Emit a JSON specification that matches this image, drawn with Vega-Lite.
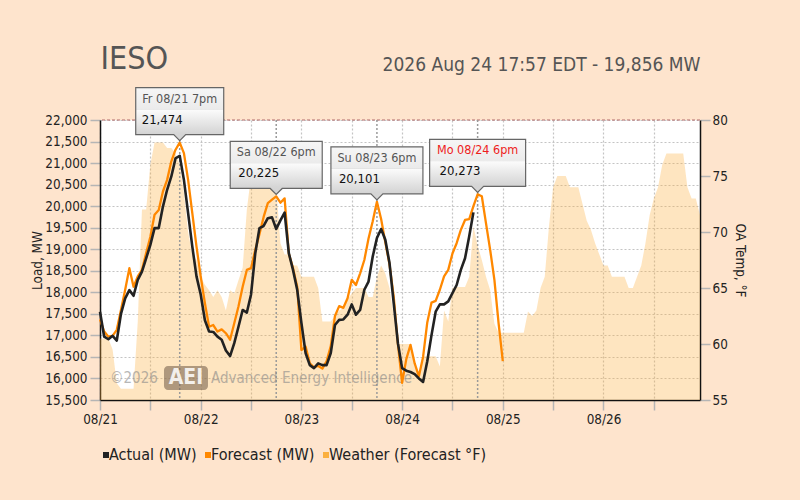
{
  "$schema": "https://vega.github.io/schema/vega-lite/v6.json",
  "width": 600,
  "height": 280,
  "autosize": {"type": "none"},
  "padding": {"left": 100, "top": 120, "right": 100, "bottom": 100},
  "background": "#fee4cd",
  "config": {
    "view": {"fill": "white", "stroke": null},
    "axis": {
      "labelFont": "DejaVu Sans Condensed",
      "titleFont": "DejaVu Sans Condensed",
      "labelFontSize": 13.4,
      "titleFontSize": 13.4,
      "titleFontWeight": "normal",
      "labelColor": "#222222",
      "titleColor": "#222222",
      "domainColor": "#111111",
      "domainWidth": 1.5,
      "tickColor": "#b5b5b5",
      "tickWidth": 1.5,
      "tickSize": 10,
      "gridColor": "#c4c4c4",
      "gridDash": [2, 2],
      "gridWidth": 1.2
    }
  },
  "datasets": {
    "load": [
      {"time": "2026-08-21T00:00", "temp": 60.5, "actual": 17550, "forecast": 17370},
      {"time": "2026-08-21T01:00", "temp": 60.5, "actual": 16970, "forecast": 17090},
      {"time": "2026-08-21T02:00", "temp": 60.5, "actual": 16910, "forecast": 16970},
      {"time": "2026-08-21T03:00", "temp": 59.5, "actual": 16990, "forecast": 16990},
      {"time": "2026-08-21T04:00", "temp": 56.5, "actual": 16880, "forecast": 17130},
      {"time": "2026-08-21T05:00", "temp": 56, "actual": 17500, "forecast": 17590},
      {"time": "2026-08-21T06:00", "temp": 56, "actual": 17860, "forecast": 18060},
      {"time": "2026-08-21T07:00", "temp": 56, "actual": 18050, "forecast": 18560},
      {"time": "2026-08-21T08:00", "temp": 56, "actual": 17920, "forecast": 18130},
      {"time": "2026-08-21T09:00", "temp": 62, "actual": 18290, "forecast": 18370},
      {"time": "2026-08-21T10:00", "temp": 72, "actual": 18480, "forecast": 18520},
      {"time": "2026-08-21T11:00", "temp": 72, "actual": 18790, "forecast": 18910},
      {"time": "2026-08-21T12:00", "temp": 76, "actual": 19100, "forecast": 19290},
      {"time": "2026-08-21T13:00", "temp": 78, "actual": 19490, "forecast": 19800},
      {"time": "2026-08-21T14:00", "temp": 78, "actual": 19490, "forecast": 19910},
      {"time": "2026-08-21T15:00", "temp": 78, "actual": 19990, "forecast": 20340},
      {"time": "2026-08-21T16:00", "temp": 77.5, "actual": 20380, "forecast": 20610},
      {"time": "2026-08-21T17:00", "temp": 77.5, "actual": 20690, "forecast": 21040},
      {"time": "2026-08-21T18:00", "temp": 77, "actual": 21110, "forecast": 21310},
      {"time": "2026-08-21T19:00", "temp": 76, "actual": 21170, "forecast": 21474},
      {"time": "2026-08-21T20:00", "temp": 73.5, "actual": 20610, "forecast": 21230},
      {"time": "2026-08-21T21:00", "temp": 70, "actual": 19840, "forecast": 20610},
      {"time": "2026-08-21T22:00", "temp": 68, "actual": 19060, "forecast": 19840},
      {"time": "2026-08-21T23:00", "temp": 67.5, "actual": 18370, "forecast": 19060},
      {"time": "2026-08-22T00:00", "temp": 66, "actual": 17950, "forecast": 18370},
      {"time": "2026-08-22T01:00", "temp": 65.3, "actual": 17350, "forecast": 17750},
      {"time": "2026-08-22T02:00", "temp": 64.8, "actual": 17090, "forecast": 17200},
      {"time": "2026-08-22T03:00", "temp": 64.2, "actual": 17080, "forecast": 17240},
      {"time": "2026-08-22T04:00", "temp": 64.8, "actual": 16970, "forecast": 17090},
      {"time": "2026-08-22T05:00", "temp": 64.2, "actual": 16900, "forecast": 17140},
      {"time": "2026-08-22T06:00", "temp": 63, "actual": 16650, "forecast": 17050},
      {"time": "2026-08-22T07:00", "temp": 64.8, "actual": 16520, "forecast": 16900},
      {"time": "2026-08-22T08:00", "temp": 64.5, "actual": 16820, "forecast": 17280},
      {"time": "2026-08-22T09:00", "temp": 65.7, "actual": 17200, "forecast": 17670},
      {"time": "2026-08-22T10:00", "temp": 66.8, "actual": 17590, "forecast": 18130},
      {"time": "2026-08-22T11:00", "temp": 72, "actual": 17530, "forecast": 18520},
      {"time": "2026-08-22T12:00", "temp": 75, "actual": 17950, "forecast": 18560},
      {"time": "2026-08-22T13:00", "temp": 76, "actual": 18900, "forecast": 18980},
      {"time": "2026-08-22T14:00", "temp": 76.5, "actual": 19490, "forecast": 19350},
      {"time": "2026-08-22T15:00", "temp": 76.5, "actual": 19540, "forecast": 19750},
      {"time": "2026-08-22T16:00", "temp": 76.5, "actual": 19720, "forecast": 20070},
      {"time": "2026-08-22T17:00", "temp": 76, "actual": 19740, "forecast": 20150},
      {"time": "2026-08-22T18:00", "temp": 74, "actual": 19470, "forecast": 20225},
      {"time": "2026-08-22T19:00", "temp": 69, "actual": 19670, "forecast": 20080},
      {"time": "2026-08-22T20:00", "temp": 68, "actual": 19850, "forecast": 20180},
      {"time": "2026-08-22T21:00", "temp": 68, "actual": 18910, "forecast": 18900},
      {"time": "2026-08-22T22:00", "temp": 67, "actual": 18520, "forecast": 18560},
      {"time": "2026-08-22T23:00", "temp": 67, "actual": 18060, "forecast": 18130},
      {"time": "2026-08-23T00:00", "temp": 66, "actual": 17290, "forecast": 16660},
      {"time": "2026-08-23T01:00", "temp": 66, "actual": 16590, "forecast": 16740},
      {"time": "2026-08-23T02:00", "temp": 66, "actual": 16310, "forecast": 16350},
      {"time": "2026-08-23T03:00", "temp": 66, "actual": 16240, "forecast": 16260},
      {"time": "2026-08-23T04:00", "temp": 65, "actual": 16350, "forecast": 16290},
      {"time": "2026-08-23T05:00", "temp": 62, "actual": 16310, "forecast": 16230},
      {"time": "2026-08-23T06:00", "temp": 62, "actual": 16310, "forecast": 16400},
      {"time": "2026-08-23T07:00", "temp": 62, "actual": 16590, "forecast": 16750},
      {"time": "2026-08-23T08:00", "temp": 62.5, "actual": 17240, "forecast": 17450},
      {"time": "2026-08-23T09:00", "temp": 63, "actual": 17360, "forecast": 17680},
      {"time": "2026-08-23T10:00", "temp": 63.2, "actual": 17370, "forecast": 17640},
      {"time": "2026-08-23T11:00", "temp": 64, "actual": 17480, "forecast": 17860},
      {"time": "2026-08-23T12:00", "temp": 64.5, "actual": 17720, "forecast": 18290},
      {"time": "2026-08-23T13:00", "temp": 65, "actual": 17480, "forecast": 18170},
      {"time": "2026-08-23T14:00", "temp": 65, "actual": 17590, "forecast": 18440},
      {"time": "2026-08-23T15:00", "temp": 65, "actual": 18060, "forecast": 18750},
      {"time": "2026-08-23T16:00", "temp": 64.2, "actual": 18250, "forecast": 19250},
      {"time": "2026-08-23T17:00", "temp": 64.2, "actual": 18830, "forecast": 19650},
      {"time": "2026-08-23T18:00", "temp": 66, "actual": 19260, "forecast": 20101},
      {"time": "2026-08-23T19:00", "temp": 67, "actual": 19470, "forecast": 19700},
      {"time": "2026-08-23T20:00", "temp": 66.3, "actual": 19220, "forecast": 19160},
      {"time": "2026-08-23T21:00", "temp": 65, "actual": 18680, "forecast": 18650},
      {"time": "2026-08-23T22:00", "temp": 62.5, "actual": 17750, "forecast": 17900},
      {"time": "2026-08-23T23:00", "temp": 60, "actual": 16820, "forecast": 16800},
      {"time": "2026-08-24T00:00", "temp": 60, "actual": 16240, "forecast": 15900},
      {"time": "2026-08-24T01:00", "temp": 60, "actual": 16180, "forecast": 16450},
      {"time": "2026-08-24T02:00", "temp": 60, "actual": 16150, "forecast": 16780},
      {"time": "2026-08-24T03:00", "temp": 58, "actual": 16100, "forecast": 16350},
      {"time": "2026-08-24T04:00", "temp": 57.5, "actual": 16000, "forecast": 16050},
      {"time": "2026-08-24T05:00", "temp": 58.9, "actual": 15920, "forecast": 16500},
      {"time": "2026-08-24T06:00", "temp": 58.9, "actual": 16400, "forecast": 17300},
      {"time": "2026-08-24T07:00", "temp": 58.9, "actual": 17000, "forecast": 17760},
      {"time": "2026-08-24T08:00", "temp": 58.9, "actual": 17550, "forecast": 17800},
      {"time": "2026-08-24T09:00", "temp": 58, "actual": 17720, "forecast": 18060},
      {"time": "2026-08-24T10:00", "temp": 63, "actual": 17720, "forecast": 18370},
      {"time": "2026-08-24T11:00", "temp": 62, "actual": 17790, "forecast": 18520},
      {"time": "2026-08-24T12:00", "temp": 65, "actual": 17980, "forecast": 18900},
      {"time": "2026-08-24T13:00", "temp": 65.1, "actual": 18170, "forecast": 19140},
      {"time": "2026-08-24T14:00", "temp": 65.1, "actual": 18520, "forecast": 19450},
      {"time": "2026-08-24T15:00", "temp": 65.1, "actual": 18790, "forecast": 19680},
      {"time": "2026-08-24T16:00", "temp": 66, "actual": 19300, "forecast": 19700},
      {"time": "2026-08-24T17:00", "temp": 70.5, "actual": 19856, "forecast": 20000},
      {"time": "2026-08-24T18:00", "temp": 68.8, "forecast": 20273},
      {"time": "2026-08-24T19:00", "temp": 67.5, "forecast": 20230},
      {"time": "2026-08-24T20:00", "temp": 66, "forecast": 19600},
      {"time": "2026-08-24T21:00", "temp": 64.8, "forecast": 18980},
      {"time": "2026-08-24T22:00", "temp": 61.8, "forecast": 18290},
      {"time": "2026-08-24T23:00", "temp": 61, "forecast": 17280},
      {"time": "2026-08-25T00:00", "temp": 61, "forecast": 16400},
      {"time": "2026-08-25T01:00", "temp": 61},
      {"time": "2026-08-25T02:00", "temp": 61},
      {"time": "2026-08-25T03:00", "temp": 61},
      {"time": "2026-08-25T04:00", "temp": 61},
      {"time": "2026-08-25T05:00", "temp": 61},
      {"time": "2026-08-25T06:00", "temp": 62.9},
      {"time": "2026-08-25T07:00", "temp": 62.5},
      {"time": "2026-08-25T08:00", "temp": 63},
      {"time": "2026-08-25T09:00", "temp": 65},
      {"time": "2026-08-25T10:00", "temp": 66},
      {"time": "2026-08-25T11:00", "temp": 70.5},
      {"time": "2026-08-25T12:00", "temp": 74},
      {"time": "2026-08-25T13:00", "temp": 75},
      {"time": "2026-08-25T14:00", "temp": 75},
      {"time": "2026-08-25T15:00", "temp": 75},
      {"time": "2026-08-25T16:00", "temp": 74},
      {"time": "2026-08-25T17:00", "temp": 74},
      {"time": "2026-08-25T18:00", "temp": 74},
      {"time": "2026-08-25T19:00", "temp": 72.5},
      {"time": "2026-08-25T20:00", "temp": 71},
      {"time": "2026-08-25T21:00", "temp": 70.2},
      {"time": "2026-08-25T22:00", "temp": 69},
      {"time": "2026-08-25T23:00", "temp": 68},
      {"time": "2026-08-26T00:00", "temp": 67},
      {"time": "2026-08-26T01:00", "temp": 67},
      {"time": "2026-08-26T02:00", "temp": 66},
      {"time": "2026-08-26T03:00", "temp": 66},
      {"time": "2026-08-26T04:00", "temp": 66},
      {"time": "2026-08-26T05:00", "temp": 66},
      {"time": "2026-08-26T06:00", "temp": 65},
      {"time": "2026-08-26T07:00", "temp": 65},
      {"time": "2026-08-26T08:00", "temp": 66},
      {"time": "2026-08-26T09:00", "temp": 67},
      {"time": "2026-08-26T10:00", "temp": 69},
      {"time": "2026-08-26T11:00", "temp": 71.5},
      {"time": "2026-08-26T12:00", "temp": 73},
      {"time": "2026-08-26T13:00", "temp": 74},
      {"time": "2026-08-26T14:00", "temp": 76},
      {"time": "2026-08-26T15:00", "temp": 77},
      {"time": "2026-08-26T16:00", "temp": 77},
      {"time": "2026-08-26T17:00", "temp": 77},
      {"time": "2026-08-26T18:00", "temp": 77},
      {"time": "2026-08-26T19:00", "temp": 77},
      {"time": "2026-08-26T20:00", "temp": 74},
      {"time": "2026-08-26T21:00", "temp": 73},
      {"time": "2026-08-26T22:00", "temp": 73},
      {"time": "2026-08-26T23:00", "temp": 71.5}
    ],
    "peaks": [
      {"time": "2026-08-21T19:00", "v": 21474, "day": "Fr", "head": "Fr 08/21 7pm"},
      {"time": "2026-08-22T18:00", "v": 20225, "day": "Sa", "head": "Sa 08/22 6pm"},
      {"time": "2026-08-23T18:00", "v": 20101, "day": "Su", "head": "Su 08/23 6pm"},
      {"time": "2026-08-24T18:00", "v": 20273, "day": "Mo", "head": "Mo 08/24 6pm"}
    ]
  },
  "resolve": {
    "scale": {"x": "independent", "y": "independent"},
    "axis": {"x": "independent", "y": "independent"}
  },
  "layer": [
    {
      "data": {"name": "load"},
      "mark": {"type": "area", "opacity": 0.33},
      "encoding": {
        "x": {
          "field": "time",
          "type": "temporal",
          "scale": {"domain": [{"year": 2026, "month": 8, "date": 21, "hours": 0}, {"year": 2026, "month": 8, "date": 26, "hours": 23}], "nice": false},
          "axis": {
            "orient": "bottom",
            "title": null,
            "grid": true,
            "labelFlush": false,
            "labelPadding": 2,
            "labelOverlap": false,
            "values": [
              {"year": 2026, "month": 8, "date": 21, "hours": 0},
              {"year": 2026, "month": 8, "date": 21, "hours": 12},
              {"year": 2026, "month": 8, "date": 22, "hours": 0},
              {"year": 2026, "month": 8, "date": 22, "hours": 12},
              {"year": 2026, "month": 8, "date": 23, "hours": 0},
              {"year": 2026, "month": 8, "date": 23, "hours": 12},
              {"year": 2026, "month": 8, "date": 24, "hours": 0},
              {"year": 2026, "month": 8, "date": 24, "hours": 12},
              {"year": 2026, "month": 8, "date": 25, "hours": 0},
              {"year": 2026, "month": 8, "date": 25, "hours": 12},
              {"year": 2026, "month": 8, "date": 26, "hours": 0},
              {"year": 2026, "month": 8, "date": 26, "hours": 12}
            ],
            "labelExpr": "hours(datum.value) == 0 ? timeFormat(datum.value, '%m/%d') : ''"
          }
        },
        "y": {
          "field": "temp",
          "type": "quantitative",
          "scale": {"domain": [55, 80], "nice": false, "zero": false},
          "axis": {
            "orient": "right",
            "values": [55, 60, 65, 70, 75, 80],
            "grid": false,
            "title": "OA Temp, °F",
            "labelPadding": 2,
            "titlePadding": 5
          }
        },
        "y2": {"datum": 55},
        "color": {
          "datum": "Weather (Forecast °F)",
          "scale": {
            "domain": ["Actual (MW)", "Forecast (MW)", "Weather (Forecast °F)"],
            "range": ["#222222", "#ff8800", "#fbb040"]
          },
          "legend": {
            "orient": "none",
            "legendX": -2,
            "legendY": 327,
            "direction": "horizontal",
            "title": null,
            "padding": 0,
            "symbolType": "square",
            "symbolSize": 36,
            "symbolOpacity": 1,
            "symbolStrokeWidth": 0,
            "labelFont": "DejaVu Sans Condensed",
            "labelFontSize": 16,
            "labelColor": "#222222",
            "labelLimit": 300,
            "labelOffset": -5,
            "columnPadding": 3,
            "encode": {
              "symbols": {
                "update": {
                  "fill": {"scale": "color", "field": "value"},
                  "stroke": {"value": "transparent"},
                  "opacity": {"value": 1},
                  "fillOpacity": {"value": 1}
                }
              }
            }
          }
        }
      }
    },
    {
      "data": {"values": [{}]},
      "mark": {"type": "rule", "color": "#b46a6a", "strokeDash": [3, 2], "strokeWidth": 1},
      "encoding": {
        "y": {"datum": 22000, "type": "quantitative", "scale": {"domain": [15500, 22000], "nice": false, "zero": false}, "axis": null}
      }
    },
    {
      "data": {"name": "peaks"},
      "mark": {"type": "rule", "color": "#9a9a9a", "strokeDash": [2, 2], "strokeWidth": 1.5},
      "encoding": {
        "x": {"field": "time", "type": "temporal", "scale": {"domain": [{"year": 2026, "month": 8, "date": 21, "hours": 0}, {"year": 2026, "month": 8, "date": 26, "hours": 23}], "nice": false}, "axis": null}
      }
    },
    {
      "data": {"values": [{}]},
      "mark": {"type": "rect", "fill": "#7a6450", "opacity": 0.6, "cornerRadius": 4},
      "encoding": {
        "x": {"datum": {"year": 2026, "month": 8, "date": 21, "hours": 15, "minutes": 15}, "type": "temporal", "scale": {"domain": [{"year": 2026, "month": 8, "date": 21, "hours": 0}, {"year": 2026, "month": 8, "date": 26, "hours": 23}], "nice": false}, "axis": null},
        "x2": {"datum": {"year": 2026, "month": 8, "date": 22, "hours": 1, "minutes": 44}},
        "y": {"datum": 16290, "type": "quantitative", "scale": {"domain": [15500, 22000], "nice": false, "zero": false}, "axis": null},
        "y2": {"datum": 15730}
      }
    },
    {
      "data": {"values": [{}]},
      "mark": {"type": "text", "text": "©2026", "align": "left", "baseline": "middle", "font": "DejaVu Sans Condensed", "fontSize": 15, "color": "#888888", "opacity": 0.6},
      "encoding": {
        "x": {"datum": {"year": 2026, "month": 8, "date": 21, "hours": 2, "minutes": 23}, "type": "temporal", "scale": {"domain": [{"year": 2026, "month": 8, "date": 21, "hours": 0}, {"year": 2026, "month": 8, "date": 26, "hours": 23}], "nice": false}, "axis": null},
        "y": {"datum": 16020, "type": "quantitative", "scale": {"domain": [15500, 22000], "nice": false, "zero": false}, "axis": null}
      }
    },
    {
      "data": {"values": [{}]},
      "mark": {"type": "text", "text": "AEI", "align": "center", "baseline": "middle", "font": "DejaVu Sans Condensed", "fontSize": 21, "fontWeight": "bold", "color": "#ffffff", "opacity": 0.85},
      "encoding": {
        "x": {"datum": {"year": 2026, "month": 8, "date": 21, "hours": 20, "minutes": 30}, "type": "temporal", "scale": {"domain": [{"year": 2026, "month": 8, "date": 21, "hours": 0}, {"year": 2026, "month": 8, "date": 26, "hours": 23}], "nice": false}, "axis": null},
        "y": {"datum": 16020, "type": "quantitative", "scale": {"domain": [15500, 22000], "nice": false, "zero": false}, "axis": null}
      }
    },
    {
      "data": {"values": [{}]},
      "mark": {"type": "text", "text": "Advanced Energy Intelligence", "align": "left", "baseline": "middle", "font": "DejaVu Sans Condensed", "fontSize": 15, "color": "#888888", "opacity": 0.6},
      "encoding": {
        "x": {"datum": {"year": 2026, "month": 8, "date": 22, "hours": 2, "minutes": 27}, "type": "temporal", "scale": {"domain": [{"year": 2026, "month": 8, "date": 21, "hours": 0}, {"year": 2026, "month": 8, "date": 26, "hours": 23}], "nice": false}, "axis": null},
        "y": {"datum": 16020, "type": "quantitative", "scale": {"domain": [15500, 22000], "nice": false, "zero": false}, "axis": null}
      }
    },
    {
      "data": {"name": "load"},
      "mark": {"type": "line", "strokeWidth": 2.3, "strokeJoin": "round"},
      "encoding": {
        "x": {
          "field": "time",
          "type": "temporal",
          "scale": {"domain": [{"year": 2026, "month": 8, "date": 21, "hours": 0}, {"year": 2026, "month": 8, "date": 26, "hours": 23}], "nice": false},
          "axis": {
            "orient": "top",
            "domain": false,
            "ticks": false,
            "labels": false,
            "grid": false,
            "title": "2026 Aug 24 17:57 EDT - 19,856 MW",
            "titleAnchor": "end",
            "titleBaseline": "alphabetic",
            "titleFont": "DejaVu Sans Condensed",
            "titleFontSize": 19,
            "titleColor": "#555555",
            "titlePadding": 50
          }
        },
        "y": {"field": "forecast", "type": "quantitative", "scale": {"domain": [15500, 22000], "nice": false, "zero": false}, "axis": null},
        "color": {"datum": "Forecast (MW)"}
      }
    },
    {
      "data": {"name": "load"},
      "mark": {"type": "line", "strokeWidth": 2.6, "strokeJoin": "round"},
      "encoding": {
        "x": {
          "field": "time",
          "type": "temporal",
          "scale": {"domain": [{"year": 2026, "month": 8, "date": 21, "hours": 0}, {"year": 2026, "month": 8, "date": 26, "hours": 23}], "nice": false},
          "axis": {
            "orient": "top",
            "domain": false,
            "ticks": false,
            "labels": false,
            "grid": false,
            "title": "IESO",
            "titleAnchor": "start",
            "titleBaseline": "alphabetic",
            "titleFont": "DejaVu Sans Condensed",
            "titleFontSize": 32,
            "titleColor": "#555555",
            "titlePadding": 52
          }
        },
        "y": {
          "field": "actual",
          "type": "quantitative",
          "scale": {"domain": [15500, 22000], "nice": false, "zero": false},
          "axis": {
            "orient": "left",
            "values": [15500, 16000, 16500, 17000, 17500, 18000, 18500, 19000, 19500, 20000, 20500, 21000, 21500, 22000],
            "format": ",.0f",
            "grid": true,
            "title": "Load, MW",
            "labelPadding": 3,
            "titlePadding": 0
          }
        },
        "color": {"datum": "Actual (MW)"}
      }
    },
    {
      "data": {"name": "peaks"},
      "mark": {
        "type": "point",
        "filled": true,
        "size": 4,
        "opacity": 1,
        "stroke": "#666666",
        "strokeWidth": 1.2,
        "fill": {
          "gradient": "linear",
          "x1": 0, "y1": 0, "x2": 0, "y2": 1,
          "stops": [
            {"offset": 0, "color": "#f6f6f6"},
            {"offset": 0.40, "color": "#ebebeb"},
            {"offset": 0.405, "color": "#dadada"},
            {"offset": 0.42, "color": "#fbfbfb"},
            {"offset": 0.86, "color": "#d5d5d5"},
            {"offset": 1, "color": "#d3d3d3"}
          ]
        }
      },
      "encoding": {
        "x": {"field": "time", "type": "temporal", "scale": {"domain": [{"year": 2026, "month": 8, "date": 21, "hours": 0}, {"year": 2026, "month": 8, "date": 26, "hours": 23}], "nice": false}, "axis": null},
        "y": {"field": "v", "type": "quantitative", "scale": {"domain": [15500, 22000], "nice": false, "zero": false}, "axis": null},
        "shape": {
          "field": "day",
          "type": "nominal",
          "scale": {
            "domain": ["Fr", "Sa", "Su", "Mo"],
            "range": [
              "M-44,-55H44V-8H6L0,-2L-6,-8H-44Z",
              "M-46,-55H46V-8H6L0,-2L-6,-8H-46Z",
              "M-46,-55H46V-8H6L0,-2L-6,-8H-46Z",
              "M-48,-55H48V-8H6L0,-2L-6,-8H-48Z"
            ]
          },
          "legend": null
        }
      }
    },
    {
      "data": {"name": "peaks"},
      "mark": {"type": "text", "align": "center", "baseline": "middle", "dy": -44, "font": "DejaVu Sans Condensed", "fontSize": 12.5},
      "encoding": {
        "x": {"field": "time", "type": "temporal", "scale": {"domain": [{"year": 2026, "month": 8, "date": 21, "hours": 0}, {"year": 2026, "month": 8, "date": 26, "hours": 23}], "nice": false}, "axis": null},
        "y": {"field": "v", "type": "quantitative", "scale": {"domain": [15500, 22000], "nice": false, "zero": false}, "axis": null},
        "text": {"field": "head"},
        "color": {"condition": {"test": "datum.day === 'Mo'", "value": "#ee1c1c"}, "value": "#555555"}
      }
    },
    {
      "data": {"name": "peaks"},
      "mark": {"type": "text", "align": "left", "baseline": "middle", "dx": -38, "dy": -23, "font": "DejaVu Sans Condensed", "fontSize": 13, "color": "#111111"},
      "encoding": {
        "x": {"field": "time", "type": "temporal", "scale": {"domain": [{"year": 2026, "month": 8, "date": 21, "hours": 0}, {"year": 2026, "month": 8, "date": 26, "hours": 23}], "nice": false}, "axis": null},
        "y": {"field": "v", "type": "quantitative", "scale": {"domain": [15500, 22000], "nice": false, "zero": false}, "axis": null},
        "text": {"field": "v", "type": "quantitative", "format": ","}
      }
    }
  ]
}
